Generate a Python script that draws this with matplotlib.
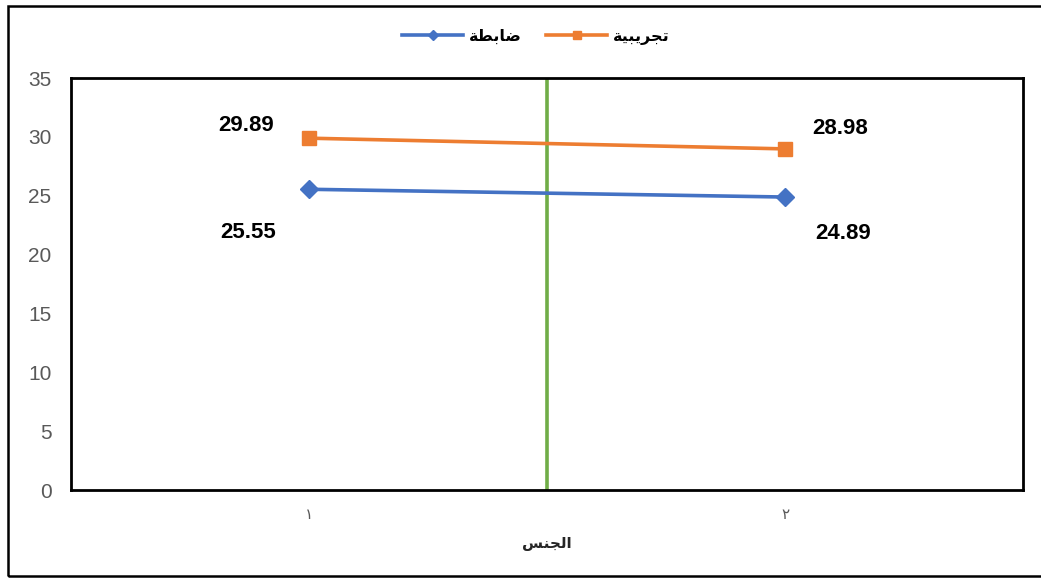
import matplotlib
matplotlib.use("Agg")
from matplotlib import pyplot as plt
from matplotlib.patches import Rectangle

plt.rcParams['font.family'] = ['Liberation Sans', 'DejaVu Sans']

# matplotlib has no Arabic shaping, so the words are written with
# presentation forms in display (left-to-right) order
lbl_control = "\uFE94\uFEC4\uFE91\uFE8E\uFEBF"             # ضابطة
lbl_experiment = "\uFE94\uFEF4\uFE92\uFEF3\uFEAE\uFEA0\uFE97"  # تجريبية
lbl_gender = "\uFEB2\uFEE8\uFEA0\uFEDF\uFE8D"                # الجنس

x_pos = [1, 2]
x_ticklabels = ["\u0661", "\u0662"]   # ١ ٢
control = [25.55, 24.89]
experiment = [29.89, 28.98]

fig = plt.figure(figsize=(10.41, 5.78), dpi=100)
ax = fig.add_axes([0.0682, 0.1522, 0.9145, 0.7128])

ax.plot(x_pos, control, color='#4472C4', lw=2.6, marker='D', ms=9,
        label=lbl_control, zorder=3)
ax.plot(x_pos, experiment, color='#ED7D31', lw=2.6, marker='s', ms=9.5,
        label=lbl_experiment, zorder=3)
ax.axvline(1.5, color='#70AD47', lw=2.6, zorder=2)

# value labels
offs = [(-45, 9), (40, 15)]
for i, (x, v) in enumerate(zip(x_pos, experiment)):
    ax.annotate(f"{v:.2f}", (x, v), xytext=offs[i], textcoords='offset points',
                ha='center', va='center', fontsize=16, fontweight='bold')
offs = [(-44, -31), (42, -26)]
for i, (x, v) in enumerate(zip(x_pos, control)):
    ax.annotate(f"{v:.2f}", (x, v), xytext=offs[i], textcoords='offset points',
                ha='center', va='center', fontsize=16, fontweight='bold')

ax.set_xlim(0.5, 2.5)
ax.set_ylim(0, 35)
ax.set_yticks(range(0, 36, 5))
ax.set_xticks(x_pos)
ax.set_xticklabels(x_ticklabels, family=['DejaVu Sans'])
ax.tick_params(axis='y', length=0, labelsize=15, labelcolor='#595959', pad=14)
ax.tick_params(axis='x', length=0, labelsize=11, labelcolor='#595959', pad=12)
for s in ax.spines.values():
    s.set_linewidth(2)
    s.set_color('black')

ax.set_xlabel(lbl_gender, family=['DejaVu Sans'], fontsize=11, fontweight='bold',
              color='#262626', labelpad=10)

leg = fig.legend(loc='upper center', bbox_to_anchor=(0.515, 0.975), ncol=2,
                 frameon=False, handlelength=3.8, columnspacing=1.5,
                 handletextpad=0.4, markerscale=0.6,
                 prop={'family': ['DejaVu Sans'], 'weight': 'bold', 'size': 11.5})

# outer chart border
fig.patches.append(Rectangle((8 / 1041, 2 / 578), 1.2, 570 / 578,
                             transform=fig.transFigure, fill=False,
                             edgecolor='black', lw=1.8))

fig.savefig("out.png", dpi=100)
